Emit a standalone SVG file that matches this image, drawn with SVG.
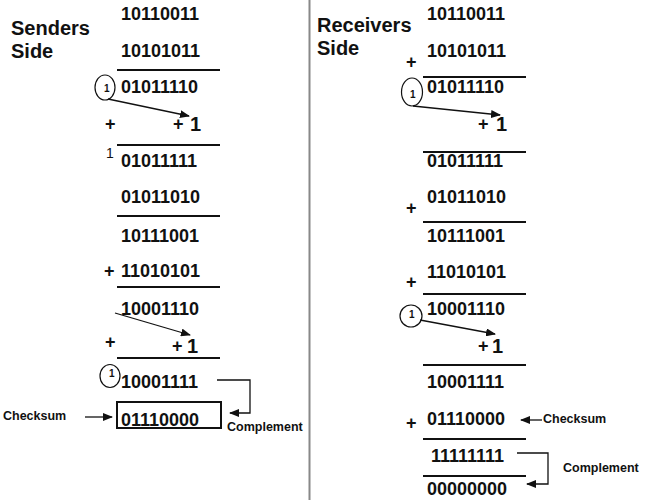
<svg xmlns="http://www.w3.org/2000/svg" width="667" height="500" viewBox="0 0 667 500">
<style>
text{font-family:"Liberation Sans",Arial,sans-serif;font-weight:bold;fill:#111}
.t{font-size:20px}
.d{font-size:18px}
.p{font-size:18px}
.s{font-size:10px}
.l{font-size:12.5px}
.rule{stroke:#111;stroke-width:2}
.c{fill:none;stroke:#111;stroke-width:1.2}
.a{fill:none;stroke:#111;stroke-width:1.3}
</style>
<defs>
<marker id="ah" markerWidth="10" markerHeight="8" refX="9" refY="4" orient="auto" markerUnits="userSpaceOnUse">
<path d="M0,0 L10,4 L0,8 Z" fill="#111"/>
</marker>
</defs>
<rect width="667" height="500" fill="#fff"/>
<line x1="309.5" y1="0" x2="309.5" y2="500" stroke="#888" stroke-width="2"/>

<g id="sender">
<text class="t" x="11" y="35">Senders</text>
<text class="t" x="11" y="58">Side</text>
<text class="d" x="121" y="20">10110011</text>
<text class="d" x="121" y="57">10101011</text>
<line class="rule" x1="117" y1="70" x2="220" y2="70"/>
<ellipse class="c" cx="105" cy="87.5" rx="10" ry="12.5"/>
<text class="s" x="104" y="92">1</text>
<text class="d" x="121" y="93">01011110</text>
<text class="p" x="105" y="130">+</text>
<text class="p" x="173" y="130">+</text>
<text class="t" x="190" y="131">1</text>
<text style="font-size:14px;font-weight:normal" x="106" y="158">1</text>
<line class="rule" x1="117" y1="145" x2="220" y2="145"/>
<text class="d" x="121" y="167">01011111</text>
<text class="d" x="121" y="203">01011010</text>
<line class="rule" x1="117" y1="216" x2="220" y2="216"/>
<text class="d" x="121" y="242">10111001</text>
<text class="p" x="104" y="277">+</text>
<text class="d" x="121" y="277">11010101</text>
<line class="rule" x1="117" y1="287" x2="220" y2="287"/>
<text class="d" x="121" y="315">10001110</text>
<text class="p" x="105" y="348">+</text>
<text class="p" x="172" y="352">+</text>
<text class="t" x="187" y="353">1</text>
<line class="rule" x1="117" y1="358" x2="220" y2="358"/>
<ellipse class="c" cx="110" cy="376" rx="10" ry="11.5"/>
<text class="s" x="109" y="377">1</text>
<text class="d" x="121" y="388">10001111</text>
<rect x="117" y="402" width="104" height="26" fill="none" stroke="#111" stroke-width="2"/>
<text class="d" x="121" y="426">01110000</text>
<text class="l" x="3" y="420">Checksum</text>
<text class="l" x="227" y="431">Complement</text>
</g>

<g id="receiver">
<text class="t" x="317" y="32">Receivers</text>
<text class="t" x="317" y="55">Side</text>
<text class="d" x="427" y="20">10110011</text>
<text class="d" x="427" y="57">10101011</text>
<text class="p" x="406" y="68">+</text>
<line class="rule" x1="423" y1="77" x2="526" y2="77"/>
<ellipse class="c" cx="412" cy="92" rx="10.5" ry="14"/>
<text class="s" x="410" y="98">1</text>
<text class="d" x="427" y="93">01011110</text>
<text class="p" x="478" y="130">+</text>
<text class="t" x="496" y="131">1</text>
<line class="rule" x1="423" y1="152" x2="526" y2="152"/>
<text class="d" x="427" y="167">01011111</text>
<text class="p" x="406" y="214">+</text>
<text class="d" x="427" y="203">01011010</text>
<line class="rule" x1="423" y1="222" x2="526" y2="222"/>
<text class="d" x="427" y="242">10111001</text>
<text class="d" x="427" y="278">11010101</text>
<text class="p" x="406" y="288">+</text>
<line class="rule" x1="423" y1="294" x2="526" y2="294"/>
<ellipse class="c" cx="411" cy="316" rx="11" ry="11"/>
<text class="s" x="409" y="318">1</text>
<text class="d" x="427" y="315">10001110</text>
<text class="p" x="478" y="352">+</text>
<text class="t" x="492" y="353">1</text>
<line class="rule" x1="423" y1="365" x2="526" y2="365"/>
<text class="d" x="427" y="388">10001111</text>
<text class="p" x="406" y="429">+</text>
<text class="d" x="427" y="425">01110000</text>
<text class="l" x="543" y="423">Checksum</text>
<line class="rule" x1="423" y1="439" x2="526" y2="439"/>
<text class="d" x="431" y="462">11111111</text>
<text class="l" x="563" y="472">Complement</text>
<line class="rule" x1="423" y1="476" x2="526" y2="476"/>
<text class="d" x="427" y="495">00000000</text>
</g>

<g id="connectors">
<path class="a" d="M108,99 L189,116" marker-end="url(#ah)"/>
<path class="a" d="M115,313 L190,335" marker-end="url(#ah)"/>
<path class="a" d="M217,380 H250 V413 H230" marker-end="url(#ah)"/>
<path class="a" d="M85,417 H112" marker-end="url(#ah)"/>
<path class="a" d="M413,106 L500,115" marker-end="url(#ah)"/>
<path class="a" d="M420,320 L495,334" marker-end="url(#ah)"/>
<path class="a" d="M542,420 H521" marker-end="url(#ah)"/>
<path class="a" d="M517,453 H548 V484 H527" marker-end="url(#ah)"/>
</g>
</svg>
